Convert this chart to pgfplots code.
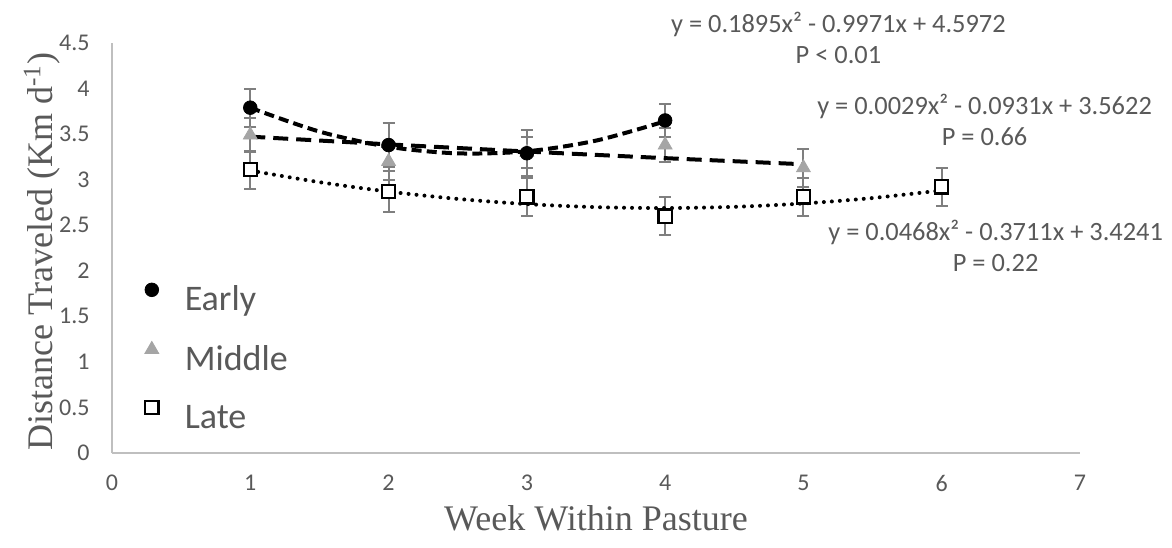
\documentclass[border=0pt]{standalone}
\usepackage{pgfplots}
\pgfplotsset{compat=1.18}
\usepackage{fontspec}
\setmainfont{Carlito}
\newfontfamily\serifl{Liberation Serif}
\definecolor{txt}{HTML}{595959}
\definecolor{axl}{HTML}{BFBFBF}
\definecolor{errc}{HTML}{7F7F7F}
\definecolor{midc}{HTML}{A5A5A5}
\begin{document}
\begin{tikzpicture}
\begin{axis}[
  at={(0,0)}, anchor=origin,
  scale only axis, width=484pt, height=205pt,
  xmin=0, xmax=7, ymin=0, ymax=4.5,
  xtick={0,1,...,7}, ytick={0,0.5,...,4.5},
  axis x line*=bottom, axis y line*=left,
  axis line style={axl, line width=0.75pt},
  major tick length=0pt,
  tick label style={font=\fontsize{12}{14}\selectfont, text=txt, inner sep=0pt},
  /pgf/number format/assume math mode=true,
  yticklabel shift=11pt, xticklabel shift=11pt,
  xlabel={\serifl Week Within Pasture},
  ylabel={\serifl Distance Traveled (Km d\textsuperscript{-1})},
  label style={font=\fontsize{18}{22}\selectfont, text=txt, inner sep=0pt},
  xlabel style={at={(axis description cs:0.5,0)}, anchor=base, yshift=-38.5pt},
  ylabel style={at={(axis description cs:-0.061,0.4915)}, anchor=base},
  clip=false,
  reverse legend,
  legend cell align=left,
  legend image code/.code={\draw[#1] plot coordinates {(0pt,5.8pt)};},
  legend style={at={(axis cs:0.235,1.87)}, anchor=north west, draw=none, fill=none,
    font=\fontsize{18}{21}\selectfont, text=txt, row sep=11.5pt, column sep=13pt,
    inner sep=0pt, nodes={inner sep=0pt, text height=13pt, text depth=4pt}},
  error bars/error bar style={errc, line width=1pt},
  error bars/error mark options={errc, rotate=90, mark size=3pt, line width=1pt},
]
% Late
\addplot[only marks, mark=square*, mark size=3.3pt, mark options={fill=white, draw=black, line width=1.1pt},
  error bars/.cd, y dir=both, y explicit]
  coordinates {(1,3.11) +- (0,0.21) (2,2.87) +- (0,0.22) (3,2.81) +- (0,0.21)
               (4,2.60) +- (0,0.21) (5,2.81) +- (0,0.21) (6,2.92) +- (0,0.21)};
\addlegendentry{Late}
% Middle
\addplot[only marks, mark=triangle*, mark size=4pt, mark options={fill=midc, draw=midc},
  error bars/.cd, y dir=both, y explicit]
  coordinates {(1,3.49) +- (0,0.19) (2,3.20) +- (0,0.20) (3,3.30) +- (0,0.17)
               (4,3.38) +- (0,0.19) (5,3.13) +- (0,0.21)};
\addlegendentry{Middle}
% Early
\addplot[only marks, mark=*, mark size=3.4pt, mark options={fill=black, draw=black},
  error bars/.cd, y dir=both, y explicit]
  coordinates {(1,3.79) +- (0,0.21) (2,3.38) +- (0,0.24) (3,3.29) +- (0,0.25) (4,3.65) +- (0,0.18)};
\addlegendentry{Early}
% trendlines
\addplot[forget plot, smooth, black, line width=2pt, dash pattern=on 5pt off 2.6pt]
  coordinates {(1,3.7896) (1.5,3.5279) (2,3.3610) (2.5,3.2888) (3,3.3114) (3.5,3.4287) (4,3.6408)};
\addplot[forget plot, smooth, black, line width=2pt, dash pattern=on 7.5pt off 4pt]
  coordinates {(1,3.4720) (2,3.3876) (3,3.3090) (4,3.2362) (5,3.1692)};
\addplot[forget plot, smooth, black, line width=2pt, line cap=round, dash pattern=on 0pt off 4pt]
  coordinates {(1,3.0998) (1.5,2.9727) (2,2.8691) (2.5,2.7888) (3,2.7320) (3.5,2.6985)
               (4,2.6885) (4.5,2.7018) (5,2.7386) (5.5,2.7987) (6,2.8823)};
% equations
\node[align=center, font=\fontsize{13.2}{15.5}\selectfont, text=txt] at (axis cs:5.253,4.56)
  {y = 0.1895x² - 0.9971x + 4.5972\\P < 0.01};
\node[align=center, font=\fontsize{13.2}{15.5}\selectfont, text=txt] at (axis cs:6.31,3.66)
  {y = 0.0029x² - 0.0931x + 3.5622\\P = 0.66};
\node[align=center, font=\fontsize{13.2}{15.5}\selectfont, text=txt] at (axis cs:6.39,2.27)
  {y = 0.0468x² - 0.3711x + 3.4241\\P = 0.22};
\end{axis}
\pgfresetboundingbox
\path[use as bounding box] (-56pt,-47pt) rectangle (530pt,226.5pt);
\end{tikzpicture}
\end{document}
